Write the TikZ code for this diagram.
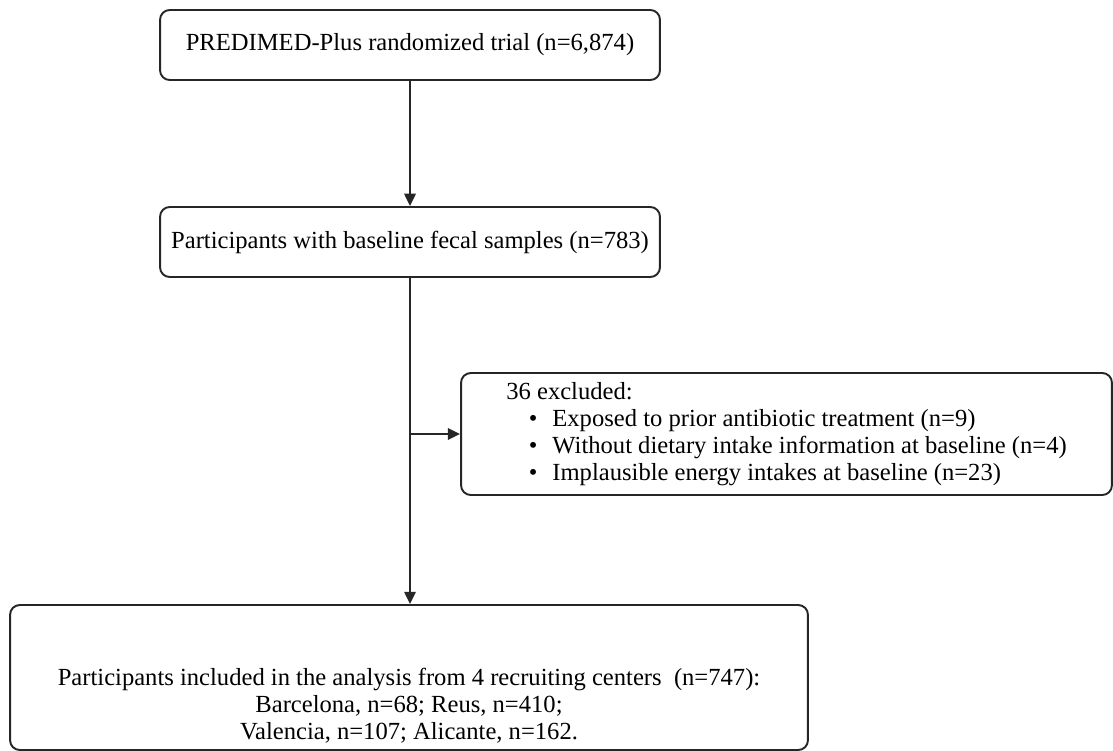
\documentclass[tikz,border=0pt]{standalone}
\usepackage{fontspec}
\setmainfont{Liberation Serif}
\usetikzlibrary{arrows.meta}

\begin{document}
\begin{tikzpicture}[x=0.02cm,y=-0.02cm]
\useasboundingbox (0,0) rectangle (1113,751);
\tikzstyle{block} = [draw=black!85,line width=1.1pt,rectangle,rounded corners=5.5pt,align=center,font=\fontsize{14}{15.3}\selectfont]
\tikzstyle{edge} = [-{Triangle[length=7pt,width=6.5pt]},line width=1.1pt,draw=black!85]
\node[block,minimum width=10cm,minimum height=1.4cm] (trial) at (410,45) {PREDIMED-Plus randomized trial (n=6,874)};
\node[block,minimum width=10cm,minimum height=1.4cm] (fecal) at (410,242) {Participants with baseline fecal samples (n=783)};
\node[block,minimum width=13.02cm,minimum height=2.44cm,align=left] (excl) at (786.5,434) {36 excluded:\\
\hspace*{0.45cm}\textbullet\hspace{0.3cm}Exposed to prior antibiotic treatment (n=9)\\
\hspace*{0.45cm}\textbullet\hspace{0.3cm}Without dietary intake information at baseline (n=4)\\
\hspace*{0.45cm}\textbullet\hspace{0.3cm}Implausible energy intakes at baseline (n=23)};
\node[block,minimum width=15.96cm,minimum height=2.9cm] (incl) at (409,677.5) {};
\node[align=center,font=\fontsize{14}{15.3}\selectfont] (incltext) at (409,706) {Participants included in the analysis from 4 recruiting centers \ (n=747):\\
Barcelona, n=68; Reus, n=410;\\
Valencia, n=107; Alicante, n=162.};
%\draw[edge] (trial) -- (fecal);
\draw[edge] (trial.south) -- (fecal.north);
\coordinate (branch) at (fecal.south |- excl.west);
\draw[edge] (fecal.south) -- (fecal.south |- incl.north);
\draw[edge] (branch) -- (excl.west);
\end{tikzpicture}
\end{document}
